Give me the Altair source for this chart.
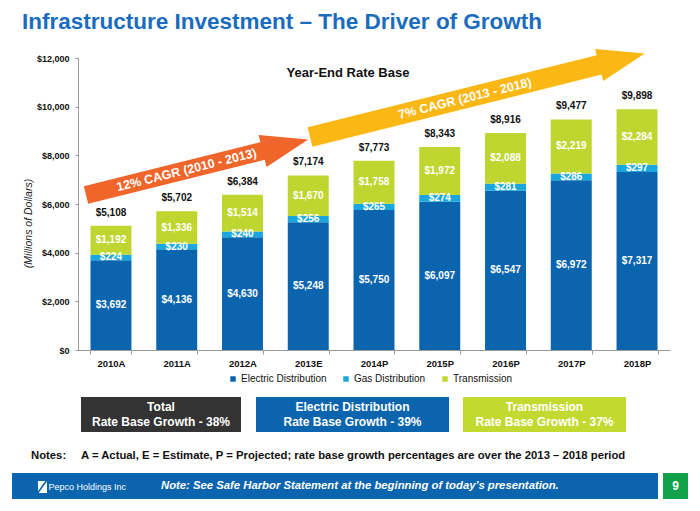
import altair as alt
import pandas as pd

FONT = "Liberation Sans"

# ---------------- data ----------------
years = ["2010A", "2011A", "2012A", "2013E", "2014P", "2015P", "2016P", "2017P", "2018P"]
electric = [3692, 4136, 4630, 5248, 5750, 6097, 6547, 6972, 7317]
gas = [224, 230, 240, 256, 265, 274, 281, 286, 297]
transmission = [1192, 1336, 1514, 1670, 1758, 1972, 2088, 2219, 2284]
segments = ["Electric Distribution", "Gas Distribution", "Transmission"]
seg_colors = ["#0a64ae", "#1aa7df", "#bfd631"]
y_ticks = [0, 2000, 4000, 6000, 8000, 10000, 12000]

title_text = "Infrastructure Investment \u2013 The Driver of Growth"
subtitle_text = "Year-End Rate Base"
cagr_early = "12% CAGR (2010 - 2013)"
cagr_late = "7% CAGR (2013 - 2018)"
box_titles = ["Total", "Electric Distribution", "Transmission"]
box_lines = ["Rate Base Growth - 38%", "Rate Base Growth - 39%", "Rate Base Growth - 37%"]
notes_label = "Notes:"
notes_text = "A = Actual, E = Estimate, P = Projected; rate base growth percentages are over the 2013 \u2013 2018 period"
footer_text = "Note:  See Safe Harbor Statement at the beginning of today\u2019s presentation."
logo_text = "Pepco Holdings Inc"
page_no = "9"

rows = []
for i, yr in enumerate(years):
    for k, (s, vals) in enumerate(zip(segments, [electric, gas, transmission])):
        rows.append({"year": yr, "segment": s, "value": vals[i], "order": k})
df = pd.DataFrame(rows)

# ---------------- chart ----------------
x_axis = alt.Axis(labelAngle=0, labelFont=FONT, labelFontWeight="bold", labelFontSize=9.5,
                  labelColor="#111", tickBand="extent", tickSize=4, labelPadding=4,
                  domainColor="#9a9a9a", tickColor="#9a9a9a", title=None)
y_axis = alt.Axis(values=y_ticks, format="$,.0f", grid=False, title="(Millions of Dollars)",
                  labelFont=FONT, labelFontWeight="bold", labelFontSize=9, labelColor="#111",
                  tickSize=3, labelPadding=6, domainColor="#9a9a9a", tickColor="#9a9a9a",
                  titleFont=FONT, titleFontStyle="italic", titleFontWeight="normal",
                  titleFontSize=10.5, titleColor="#222", titleAnchor="middle",
                  titleX=-45, titleY=165)
x_scale = alt.Scale(paddingInner=0.377, paddingOuter=0.19)
y_scale = alt.Scale(domain=[0, 12000], nice=False)


def X():
    return alt.X("year:N", sort=years, scale=x_scale, axis=x_axis)


def Y(field):
    return alt.Y(field, scale=y_scale, axis=y_axis)


stacked = alt.Chart(df).transform_stack(
    stack="value", groupby=["year"], as_=["v0", "v1"],
    sort=[alt.SortField("order", order="ascending")],
).transform_calculate(mid="(datum.v0 + datum.v1) / 2")

bars = stacked.mark_bar().encode(
    x=X(),
    y=Y("v0:Q"),
    y2="v1:Q",
    color=alt.Color("segment:N", scale=alt.Scale(domain=segments, range=seg_colors),
                    legend=alt.Legend(title=None, orient="none", legendX=150, legendY=316,
                                      direction="horizontal", symbolType="square", symbolSize=30,
                                      symbolStrokeWidth=0, labelFont=FONT, labelFontSize=10,
                                      labelColor="#111", columnPadding=14, labelOffset=3, padding=0)),
    order=alt.Order("order:Q"),
)

seg_labels = stacked.mark_text(color="white", fontWeight="bold", fontSize=10, font=FONT,
                               baseline="middle").encode(
    x=X(),
    y=Y("mid:Q"),
    text=alt.Text("value:Q", format="$,.0f"),
)

totals = alt.Chart(df).transform_aggregate(total="sum(value)", groupby=["year"]).mark_text(
    color="#111", fontWeight="bold", fontSize=10, font=FONT, baseline="middle", dy=-13
).encode(
    x=X(),
    y=Y("total:Q"),
    text=alt.Text("total:Q", format="$,.0f"),
)

one = pd.DataFrame({"k": [0]})


def txt(s, x, y, size, color="#111", weight="normal", align="left", style="normal", angle=0):
    return alt.Chart(one).mark_text(
        align=align, baseline="middle", fontSize=size, fontWeight=weight, fontStyle=style,
        color=color, angle=angle, font=FONT
    ).encode(x=alt.value(x), y=alt.value(y), text=alt.value(s))


def box(x1, x2, y1, y2, color):
    return alt.Chart(one).mark_rect(color=color).encode(
        x=alt.value(x1), x2=alt.value(x2), y=alt.value(y1), y2=alt.value(y2))


def arrow_path(length, head, w, hw):
    b = length - head
    return (f"M0,{-w} L{b},{-w} L{b},{-hw} L{length},0 L{b},{hw} L{b},{w} L0,{w} Z")


def arrow(x, y, length, head, w, hw, color, angle):
    return alt.Chart(one).mark_point(
        shape=arrow_path(length, head, w, hw), size=4, filled=True, opacity=1,
        fill=color, color=color, strokeWidth=0, angle=angle
    ).encode(x=alt.value(x), y=alt.value(y))


ANG = 346
layers = [
    bars, seg_labels, totals,
    arrow(8, 137, 229, 47, 9, 16.5, "#f0652a", ANG),
    arrow(232, 79, 345, 47, 10, 16.5, "#fbb714", ANG),
    txt(cagr_early, 108.5, 112, 12.5, "white", "bold", "center", angle=ANG),
    txt(cagr_late, 387, 40.5, 12.5, "white", "bold", "center", angle=ANG),
    txt(title_text, -56, -36, 22.5, "#1a6cbf", "bold"),
    txt(subtitle_text, 270, 15, 13, "#111", "bold", "center"),
    box(3, 163, 339, 374, "#333333"),
    box(178, 371, 339, 374, "#0a64ae"),
    box(385, 548, 339, 374, "#c2d92f"),
]
for cx, t1, t2 in zip([83, 274.5, 466.5], box_titles, box_lines):
    layers.append(txt(t1, cx, 349, 12, "white", "bold", "center"))
    layers.append(txt(t2, cx, 364, 12, "white", "bold", "center"))

layers += [
    txt(notes_label, -47, 398, 11.3, "#111", "bold"),
    txt(notes_text, 3, 398, 11.3, "#111", "bold"),
    box(-66, 580, 415, 441, "#0a64ae"),
    box(585, 610, 415, 441, "#12a24b"),
    txt(page_no, 597.5, 428, 12, "white", "bold", "center"),
    box(-40, -31, 423, 435, "white"),
    alt.Chart(one).mark_rule(color="#0a64ae", strokeWidth=1.5).encode(
        x=alt.value(-41), x2=alt.value(-31), y=alt.value(436), y2=alt.value(422)),
    txt(logo_text, -29.5, 429, 9, "white"),
    txt(footer_text, 83, 428, 11.3, "white", "bold", style="italic"),
]

chart = alt.layer(*layers).properties(
    width=592, height=292,
    padding={"left": 78, "top": 58, "right": 30, "bottom": 161},
    autosize=alt.AutoSizeParams(type="none"),
    background="white",
).configure_view(stroke=None)

chart.save("out.html", embed_options={"renderer": "svg", "actions": False})
